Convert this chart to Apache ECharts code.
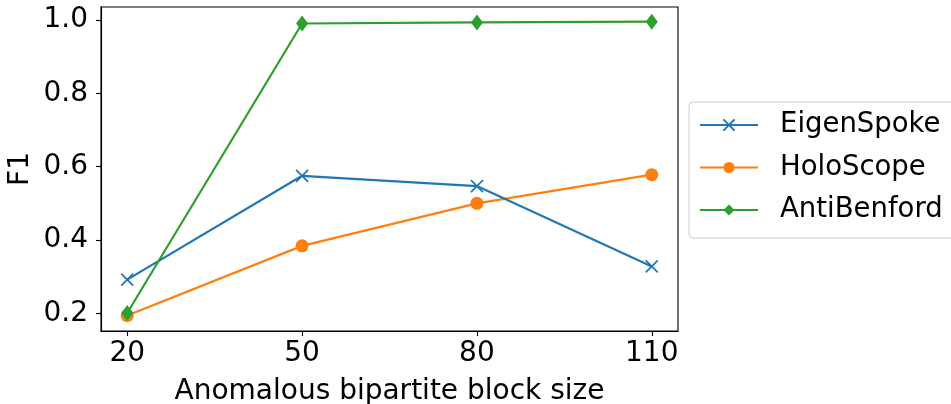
<!DOCTYPE html>
<html>
<head>
<meta charset="utf-8">
<script src="https://cdn.jsdelivr.net/npm/echarts@6/dist/echarts.min.js"></script>
<style>html,body{margin:0;padding:0;background:#fff;}#c{width:951px;height:404px;}</style>
</head>
<body>
<div id="c"></div>
<script>
var blockSizes = [20, 50, 80, 110];
var eigenSpoke = [0.292, 0.575, 0.547, 0.328];
var holoScope = [0.194, 0.384, 0.500, 0.578];
var antiBenford = [0.201, 0.990, 0.993, 0.995];
var xTicks = [20, 50, 80, 110];
var yTicks = [0.2, 0.4, 0.6, 0.8, 1.0];

function pairs(xs, ys) { return xs.map(function (x, i) { return [x, ys[i]]; }); }

var FONT = 'DejaVu Sans';
var chart = echarts.init(document.getElementById('c'), null, {renderer: 'canvas'});
var xPath = 'path://M0,0L10,10M10,0L0,10';
chart.setOption({
  backgroundColor: '#ffffff',
  animation: false,
  grid: {left: 101, right: 273, top: 7, bottom: 73, show: true, borderColor: '#000', borderWidth: 1.1, backgroundColor: 'transparent', containLabel: false, outerBoundsMode: 'none'},
  xAxis: {
    type: 'value', min: 15.5, max: 114.5,
    name: 'Anomalous bipartite block size', nameLocation: 'middle', nameGap: 47, nameMoveOverlap: false,
    nameTextStyle: {fontFamily: FONT, fontSize: 28, color: '#000'},
    axisLine: {show: true, lineStyle: {color: '#000', width: 1.1}},
    axisTick: {show: true, length: 5, lineStyle: {color: '#000', width: 1.1}, customValues: xTicks},
    axisLabel: {fontFamily: FONT, fontSize: 28, color: '#000', margin: 9, customValues: xTicks},
    splitLine: {show: false}
  },
  yAxis: {
    type: 'value', min: 0.152, max: 1.035,
    name: 'F1', nameLocation: 'middle', nameGap: 66, nameRotate: 90, nameMoveOverlap: false,
    nameTextStyle: {fontFamily: FONT, fontSize: 28, color: '#000'},
    axisLine: {show: true, lineStyle: {color: '#000', width: 1.1}},
    axisTick: {show: true, length: 5, lineStyle: {color: '#000', width: 1.1}, customValues: yTicks},
    axisLabel: {fontFamily: FONT, fontSize: 28, color: '#000', margin: 13, customValues: yTicks,
      formatter: function (v) { return v.toFixed(1); }},
    splitLine: {show: false}
  },
  legend: {
    orient: 'vertical', left: 689, top: 102,
    itemWidth: 58, itemHeight: 14, itemGap: 12.5,
    padding: [8, 40, 13, 10],
    backgroundColor: '#fff', borderColor: '#cccccc', borderWidth: 1, borderRadius: 4,
    textStyle: {fontFamily: FONT, fontSize: 27.5, color: '#000', lineHeight: 30, padding: [0, 0, 0, 17]},
    data: ['EigenSpoke', 'HoloScope', 'AntiBenford']
  },
  series: [
    {name: 'EigenSpoke', type: 'line', data: pairs(blockSizes, eigenSpoke),
      symbol: xPath, symbolSize: 12,
      lineStyle: {color: '#1f77b4', width: 2.2},
      itemStyle: {color: '#1f77b4', borderColor: '#1f77b4', borderWidth: 1.7}, z: 3},
    {name: 'HoloScope', type: 'line', data: pairs(blockSizes, holoScope),
      symbol: 'circle', symbolSize: 13,
      lineStyle: {color: '#ff7f0e', width: 2.2},
      itemStyle: {color: '#ff7f0e', borderWidth: 0}, z: 2},
    {name: 'AntiBenford', type: 'line', data: pairs(blockSizes, antiBenford),
      symbol: 'diamond', symbolSize: [12, 16],
      lineStyle: {color: '#2ca02c', width: 2.2},
      itemStyle: {color: '#2ca02c', borderWidth: 0}, z: 4}
  ]
});
</script>
</body>
</html>
